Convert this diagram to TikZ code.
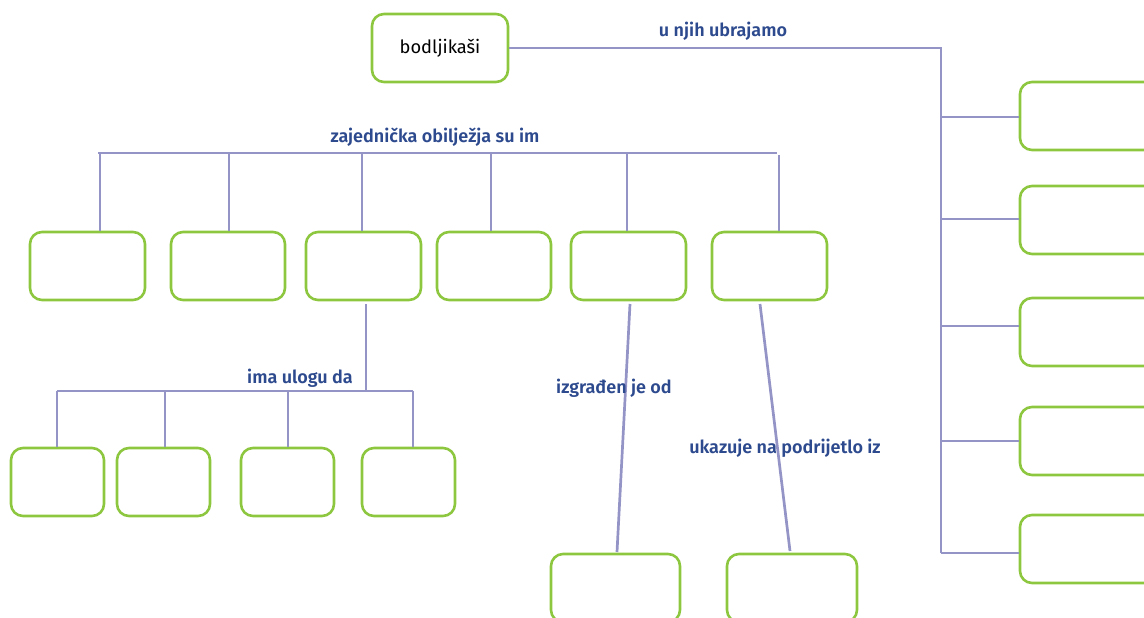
\documentclass[tikz,border=0pt]{standalone}
\usepackage{fontspec}
\setmainfont{Fira Sans}[BoldFont={Fira Sans SemiBold}]
\definecolor{lnc}{HTML}{9494C6}
\definecolor{bxc}{HTML}{8DC63F}
\definecolor{lbc}{HTML}{2D4A8E}
\tikzset{
  box/.style={draw=bxc, line width=2.6pt, rounded corners=12pt, minimum height=68pt, inner sep=0pt},
  conn/.style={draw=lnc, line width=2.7pt},
  lbl/.style={text=lbc, font=\fontsize{18}{21}\selectfont\bfseries, inner sep=0pt},
}
\begin{document}
\begin{tikzpicture}[x=1pt,y=-1pt]
\useasboundingbox (0,0) rectangle (1144,618);
\clip (0,0) rectangle (1144,618);
% main box
\node[box, minimum width=136pt, font=\fontsize{18.3}{22}\selectfont] (main) at (440,48) {bodljikaši};
% right boxes
\node[box, minimum width=142pt] (r1) at (1091,116) {};
\node[box, minimum width=142pt] (r2) at (1091,220) {};
\node[box, minimum width=142pt] (r3) at (1091,332) {};
\node[box, minimum width=142pt] (r4) at (1091,441) {};
\node[box, minimum width=142pt] (r5) at (1091,549) {};
% top row
\node[box, minimum width=115pt] (t1) at (87.5,266) {};
\node[box, minimum width=114pt] (t2) at (228,266) {};
\node[box, minimum width=115pt] (t3) at (363.5,266) {};
\node[box, minimum width=114pt] (t4) at (494,266) {};
\node[box, minimum width=115pt] (t5) at (628.5,266) {};
\node[box, minimum width=115pt] (t6) at (769.5,266) {};
% bottom-left row
\node[box, minimum width=93pt] (b1) at (57.5,482) {};
\node[box, minimum width=93pt] (b2) at (163.5,482) {};
\node[box, minimum width=93pt] (b3) at (287.5,482) {};
\node[box, minimum width=93pt] (b4) at (408.5,482) {};
% bottom boxes
\node[box, minimum width=129pt] (c1) at (615.5,588) {};
\node[box, minimum width=130pt] (c2) at (792,588) {};

% coordinates
\coordinate (vbot) at (941,553);
\coordinate (hb1) at (941,117);
\coordinate (hb2) at (941,219);
\coordinate (hb3) at (941,326);
\coordinate (hb4) at (941,441);
\coordinate (hb5) at (941,553);
\coordinate (barL) at (98,153);
\coordinate (barR) at (777,153);
\coordinate (d1) at (100,153);
\coordinate (d2) at (229,153);
\coordinate (d3) at (362,153);
\coordinate (d4) at (491,153);
\coordinate (d5) at (627,153);
\coordinate (d6) at (779,155);
\coordinate (s3) at (366,304);
\coordinate (bar2) at (366,391);
\coordinate (bar2L) at (57,391);
\coordinate (bar2R) at (413,391);
\coordinate (e1) at (57,391);
\coordinate (e2) at (165,391);
\coordinate (e3) at (288,391);
\coordinate (e4) at (413,391);
\coordinate (s5) at (630,304);
\coordinate (s6) at (760,304);
\coordinate (f1) at (617,552);
\coordinate (f2) at (790,551);

% connectors
\draw[conn] (main.east) -| (vbot);
\foreach \i in {1,...,5}{\draw[conn] (hb\i) -- (hb\i -| r\i.west);}
\draw[conn] (barL) -- (barR);
\foreach \i in {1,...,6}{\draw[conn] (d\i) -- (d\i |- t\i.north);}
\draw[conn] (s3) -- (bar2);
\draw[conn] (bar2L) -- (bar2R);
\foreach \i in {1,...,4}{\draw[conn] (e\i) -- (e\i |- b\i.north);}
\draw[conn] (s5) -- (f1);
\draw[conn] (s6) -- (f2);

% labels
\node[lbl] (l1) at (723,31) {u njih ubrajamo};
\node[lbl] (l2) at (435,137) {zajednička obilježja su im};
\node[lbl] (l3) at (300,378) {ima ulogu da};
\node[lbl] (l4) at (614,388) {izgrađen je od};
\node[lbl] (l5) at (785,448) {ukazuje na podrijetlo iz};
\end{tikzpicture}
\end{document}
